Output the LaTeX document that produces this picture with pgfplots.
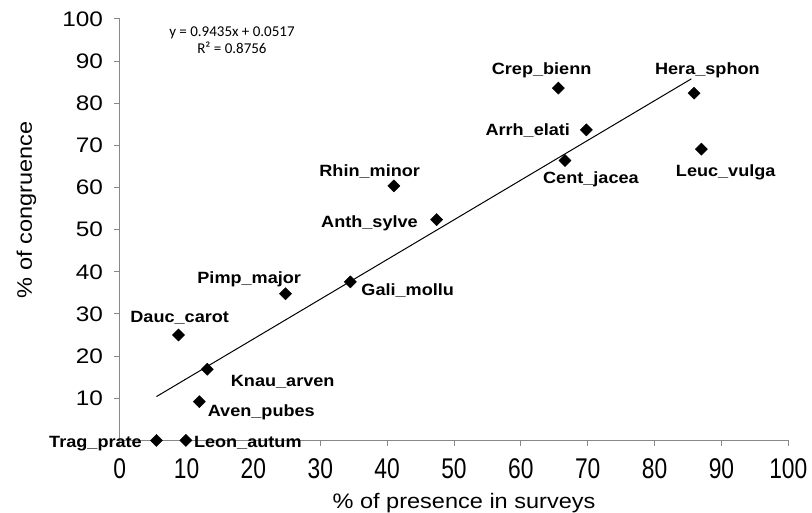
\documentclass[border=0pt]{standalone}
\usepackage{pgfplots}
\pgfplotsset{compat=1.18}
\usepackage{fontspec}
\setmainfont{Liberation Sans}
\newfontfamily\ytickfont{Liberation Sans}[FakeStretch=1.16]
\newfontfamily\xtickfont{Liberation Sans}[FakeStretch=0.8]
\newfontfamily\labfont{Liberation Sans}[FakeStretch=1.12]
\newfontfamily\ptfont{Liberation Sans}[FakeStretch=1.11]
\newfontfamily\eqfont{Carlito}
\definecolor{axgray}{RGB}{136,136,136}
\begin{document}
\begin{tikzpicture}
\path[use as bounding box] (-119.7pt,-72.6pt) rectangle (692.3pt,440.4pt);
\begin{axis}[
  at={(0pt,0pt)}, anchor=south west,
  scale only axis, width=668.6pt, height=421.4pt,
  xmin=0, xmax=100, ymin=0, ymax=100,
  axis x line=bottom, axis y line=left,
  axis line style={axgray, line width=1pt, -},
  tick style={axgray, line width=1pt},
  tick align=outside, major tick length=5.5pt,
  xtick={0,10,...,100}, ytick={10,20,...,100},
  /pgf/number format/assume math mode=true,
  xticklabel style={font=\xtickfont\fontsize{28.5}{30}\selectfont, anchor=north, inner sep=0pt, yshift=-12.9pt},
  yticklabel style={font=\ytickfont\fontsize{21}{24}\selectfont, anchor=east, inner sep=0pt, xshift=-11pt},
  xlabel={\% of presence in surveys},
  ylabel={\% of congruence},
  xlabel style={font=\labfont\fontsize{21}{24}\selectfont, at={(rel axis cs:0.515,-0.1611)}, anchor=base, inner sep=0pt},
  ylabel style={font=\labfont\fontsize{21}{24}\selectfont, at={(rel axis cs:-0.1395,0.5468)}, anchor=center, inner sep=0pt},
  clip=false,
]
\addplot[black, line width=1pt] coordinates {(5.5,10.4) (85.5,85.8)};
\addplot[only marks, mark=square*, mark size=4.3pt, mark options={rotate=45, black, fill=black}] coordinates {
 (5.5,0) (9.9,0) (8.8,25.0) (24.8,34.8) (34.5,37.6) (13.1,16.9) (11.9,9.2)
 (41.0,60.4) (47.4,52.4) (65.6,83.6) (85.9,82.4) (69.8,73.7) (66.6,66.4) (87.0,69.1)
};
\begin{scope}[every node/.style={font=\ptfont\bfseries\fontsize{16.3}{18}\selectfont, anchor=base, inner sep=0pt}]
\node at (axis cs:63.11,86.71) {Crep\_bienn};
\node at (axis cs:87.90,86.71) {Hera\_sphon};
\node at (axis cs:61.03,72.24) {Arrh\_elati};
\node at (axis cs:70.48,60.85) {Cent\_jacea};
\node at (axis cs:90.64,62.58) {Leuc\_vulga};
\node at (axis cs:37.39,62.58) {Rhin\_minor};
\node at (axis cs:37.36,50.57) {Anth\_sylve};
\node at (axis cs:43.08,34.50) {Gali\_mollu};
\node at (axis cs:19.37,37.28) {Pimp\_major};
\node at (axis cs:8.97,27.93) {Dauc\_carot};
\node at (axis cs:24.38,12.74) {Knau\_arven};
\node at (axis cs:21.18,5.62) {Aven\_pubes};
\node at (axis cs:-3.62,-1.68) {Trag\_prate};
\node at (axis cs:19.16,-1.68) {Leon\_autum};
\end{scope}
\node[font=\eqfont\fontsize{15}{17}\selectfont, anchor=base, inner sep=0pt] at (axis cs:16.79,95.80) {y = 0.9435x + 0.0517};
\node[font=\eqfont\fontsize{15}{17}\selectfont, anchor=base, inner sep=0pt] at (axis cs:16.79,91.86) {R² = 0.8756};
\end{axis}
\end{tikzpicture}
\end{document}
